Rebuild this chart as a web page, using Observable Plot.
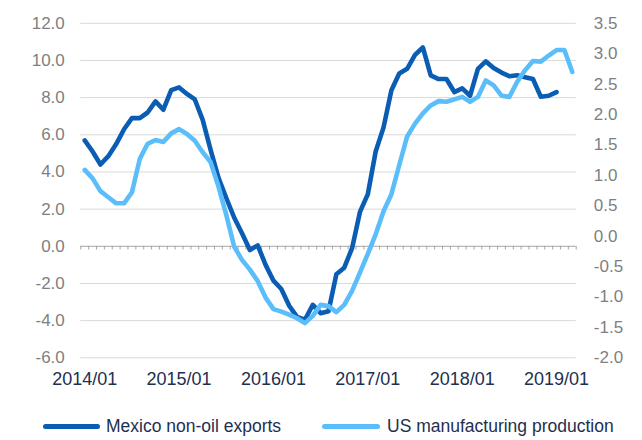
<!DOCTYPE html>
<html>
<head>
<meta charset="utf-8">
<script src="https://cdn.jsdelivr.net/npm/d3@7"></script>
<script src="https://cdn.jsdelivr.net/npm/@observablehq/plot@0.6"></script>
<style>
  html, body { margin: 0; padding: 0; background: #fff; }
  #wrap { width: 642px; position: relative; font-family: "Liberation Sans", Arial, sans-serif; }
  #legend { position: relative; width: 642px; height: 40px; }
  .sw { position: absolute; height: 5px; border-radius: 3px; top: 24px; }
  .lt { position: absolute; top: 15px; font-size: 17.5px; color: #1e2f4f; white-space: nowrap; line-height: 22px; }
</style>
</head>
<body>
<div id="wrap"></div>
<script>
const months = [
  "2014/01","2014/02","2014/03","2014/04","2014/05","2014/06","2014/07","2014/08","2014/09","2014/10","2014/11","2014/12",
  "2015/01","2015/02","2015/03","2015/04","2015/05","2015/06","2015/07","2015/08","2015/09","2015/10","2015/11","2015/12",
  "2016/01","2016/02","2016/03","2016/04","2016/05","2016/06","2016/07","2016/08","2016/09","2016/10","2016/11","2016/12",
  "2017/01","2017/02","2017/03","2017/04","2017/05","2017/06","2017/07","2017/08","2017/09","2017/10","2017/11","2017/12",
  "2018/01","2018/02","2018/03","2018/04","2018/05","2018/06","2018/07","2018/08","2018/09","2018/10","2018/11","2018/12",
  "2019/01","2019/02","2019/03"
];

// Mexico non-oil exports (left axis)
const mexicoExports = [
  5.7, 5.1, 4.4, 4.85, 5.5, 6.3, 6.9, 6.9, 7.2, 7.8, 7.35, 8.4,
  8.55, 8.2, 7.9, 6.8, 5.2, 3.7, 2.6, 1.55, 0.7, -0.2, 0.05, -1.0,
  -1.85, -2.3, -3.2, -3.8, -3.95, -3.15, -3.6, -3.5, -1.5, -1.15, -0.1, 1.85,
  2.8, 5.1, 6.4, 8.4, 9.3, 9.55, 10.3, 10.7, 9.2, 9.0, 9.0, 8.3,
  8.5, 8.1, 9.55, 9.95, 9.6, 9.35, 9.15, 9.2, 9.1, 9.0, 8.05, 8.1,
  8.3
];

// US manufacturing production (right axis)
const usManufacturing = [
  1.09, 0.95, 0.74, 0.64, 0.54, 0.54, 0.72, 1.27, 1.52, 1.58, 1.55, 1.69,
  1.76, 1.68, 1.57, 1.38, 1.22, 0.82, 0.35, -0.17, -0.39, -0.55, -0.74, -1.01,
  -1.2, -1.24, -1.29, -1.35, -1.43, -1.31, -1.13, -1.15, -1.25, -1.13, -0.9, -0.6,
  -0.29, 0.03, 0.41, 0.69, 1.17, 1.64, 1.85, 2.02, 2.15, 2.22, 2.21, 2.25,
  2.29, 2.21, 2.29, 2.56, 2.48, 2.31, 2.29, 2.54, 2.73, 2.88, 2.87, 2.97,
  3.06, 3.06, 2.7
];

const leftTicks = [-6, -4, -2, 0, 2, 4, 6, 8, 10, 12];
const rightTicks = [-2.0, -1.5, -1.0, -0.5, 0.0, 0.5, 1.0, 1.5, 2.0, 2.5, 3.0, 3.5];
const xTickLabels = ["2014/01", "2015/01", "2016/01", "2017/01", "2018/01", "2019/01"];
const seriesNames = ["Mexico non-oil exports", "US manufacturing production"];
const seriesColors = ["#0b5db3", "#5bbefb"];

// map right-axis values into left-axis units
const rightToLeft = d3.scaleLinear([d3.min(rightTicks), d3.max(rightTicks)], [d3.min(leftTicks), d3.max(leftTicks)]);
const fmt1 = v => { const r = Math.round(v * 10) / 10; return (r === 0 ? 0 : r).toFixed(1); };

const mexData = mexicoExports.map((v, i) => ({i: i + 0.5, v}));
const usData = usManufacturing.map((v, i) => ({i: i + 0.5, v: rightToLeft(v)}));
const bounds = d3.range(months.length + 1);

const grey = "#7f7f7f";
const navy = "#1e2f4f";

const chart = Plot.plot({
  width: 642,
  height: 400,
  marginLeft: 80.3,
  marginRight: 66.3,
  marginTop: 22.8,
  marginBottom: 42.7,
  style: {fontFamily: "'Liberation Sans', Arial, sans-serif", background: "#fff"},
  x: {type: "linear", domain: [0, months.length], axis: null},
  y: {domain: [d3.min(leftTicks), d3.max(leftTicks)], axis: null},
  marks: [
    Plot.ruleY(leftTicks.filter(d => d !== 0), {stroke: "#d9d9d9", strokeWidth: 1}),
    Plot.ruleY([0], {stroke: "#a6a6a6", strokeWidth: 1}),
    Plot.ruleX(bounds, {x: d => d, y1: 0, y2: -0.2, stroke: "#a6a6a6", strokeWidth: 1}),
    Plot.axisY({anchor: "left", label: null, ticks: leftTicks, tickSize: 0, tickPadding: 16, tickFormat: fmt1, fontSize: 17, fill: grey}),
    Plot.axisY({anchor: "right", label: null, ticks: rightTicks.map(rightToLeft), tickSize: 0, tickPadding: 17.6, textAnchor: "start", tickFormat: d => fmt1(rightToLeft.invert(d)), fontSize: 17, fill: grey}),
    Plot.axisX({label: null, ticks: xTickLabels.map(l => months.indexOf(l) + 0.5), tickSize: 0, tickPadding: 14, tickFormat: d => months[Math.round(d - 0.5)], fontSize: 18, fill: navy}),
    Plot.line(mexData, {x: "i", y: "v", stroke: seriesColors[0], strokeWidth: 4.6, strokeLinejoin: "round", strokeLinecap: "round"}),
    Plot.line(usData, {x: "i", y: "v", stroke: seriesColors[1], strokeWidth: 4.6, strokeLinejoin: "round", strokeLinecap: "round"})
  ]
});

const wrap = document.getElementById("wrap");
wrap.appendChild(chart);
const legend = document.createElement("div");
legend.id = "legend";
const legendPos = [{sw: 43, w: 57, tx: 106}, {sw: 322, w: 58, tx: 387}];
seriesNames.forEach((name, k) => {
  const sw = document.createElement("div");
  sw.className = "sw";
  sw.style.left = legendPos[k].sw + "px";
  sw.style.width = legendPos[k].w + "px";
  sw.style.background = seriesColors[k];
  legend.appendChild(sw);
  const t = document.createElement("div");
  t.className = "lt";
  t.style.left = legendPos[k].tx + "px";
  t.textContent = name;
  legend.appendChild(t);
});
wrap.appendChild(legend);
</script>
</body>
</html>
